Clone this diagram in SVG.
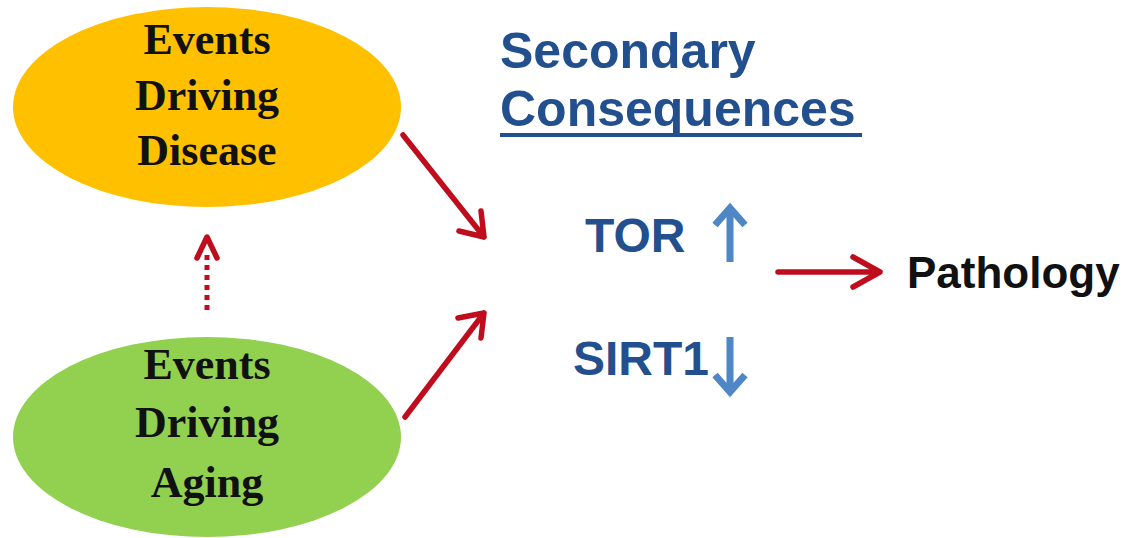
<svg xmlns="http://www.w3.org/2000/svg" width="1133" height="538" viewBox="0 0 1133 538">
<style>
.node-text{font-family:"Liberation Serif","Times New Roman",serif;font-weight:bold;font-size:44px;fill:#111;text-anchor:middle}
.blue{font-family:"Liberation Sans",Arial,sans-serif;font-weight:bold;fill:#22508e}
.red{stroke:#c00d1e;stroke-width:5.5;fill:none;stroke-linecap:round;stroke-linejoin:round}
.lb{stroke:#4f86c6;stroke-width:7;fill:none;stroke-linejoin:miter}
</style>
<rect width="1133" height="538" fill="#fff"/>
<g id="disease">
<ellipse cx="207" cy="107" rx="194" ry="100" fill="#ffc000"/>
<text class="node-text" x="207" y="54">Events</text>
<text class="node-text" x="207" y="110">Driving</text>
<text class="node-text" x="207" y="165">Disease</text>
</g>
<g id="aging">
<ellipse cx="207" cy="437" rx="194" ry="100" fill="#92d050"/>
<text class="node-text" x="207" y="379">Events</text>
<text class="node-text" x="207" y="437">Driving</text>
<text class="node-text" x="207" y="497">Aging</text>
</g>
<g id="secondary">
<text class="blue" x="500" y="68" font-size="50">Secondary</text>
<text class="blue" x="500" y="126" font-size="50">Consequences</text>
<rect x="500" y="133" width="362" height="4" fill="#22508e"/>
</g>
<g id="tor">
<text class="blue" x="585" y="252" font-size="48">TOR</text>
<path class="lb" d="M730 262 V209 M715 225 L730 208 L745 225"/>
</g>
<g id="sirt1">
<text class="blue" x="573" y="375" font-size="48">SIRT1</text>
<path class="lb" d="M730 337 V391 M715 375 L730 392 L745 375"/>
</g>
<g id="pathology">
<text x="907" y="288" font-family="Liberation Sans,Arial,sans-serif" font-weight="bold" font-size="44" fill="#111">Pathology</text>
</g>
<g id="connectors">
<path class="red" d="M403 135 L484 237 M459 231 L484 237 L481 211"/>
<path class="red" d="M405 417 L484 313 M458 318 L484 313 L481 338"/>
<path class="red" d="M778 272 H880 M853 257 L880 272 L853 287"/>
<path d="M207 310 V252" stroke="#c00d1e" stroke-width="5" stroke-dasharray="5 5"/>
<path class="red" d="M197 258 L207 237 L217 258"/>
</g>
</svg>
